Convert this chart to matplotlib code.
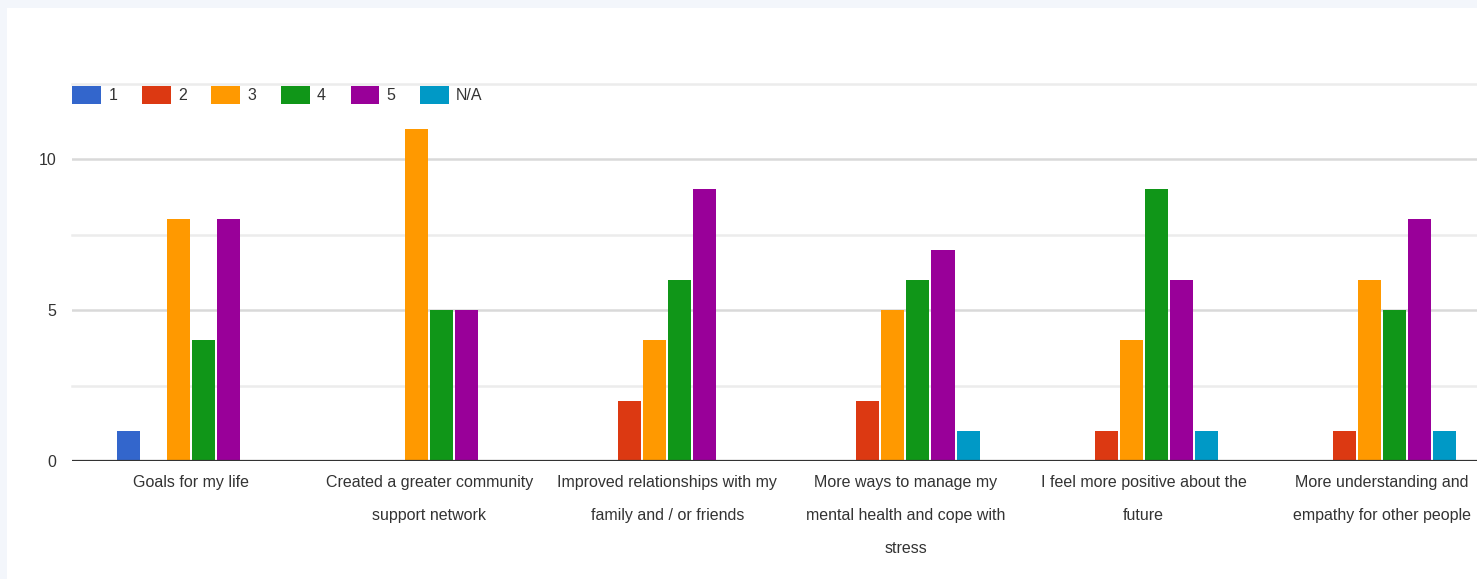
import matplotlib
matplotlib.use("Agg")
import matplotlib.pyplot as plt
import numpy as np
from matplotlib import font_manager
from matplotlib.patches import Patch, Rectangle

# survey statements and answer counts per rating
categories = [
    "Goals for my life",
    "Created a greater community\nsupport network",
    "Improved relationships with my\nfamily and / or friends",
    "More ways to manage my\nmental health and cope with\nstress",
    "I feel more positive about the\nfuture",
    "More understanding and\nempathy for other people",
]
ratings = ["1", "2", "3", "4", "5", "N/A"]
counts_1 = [1, 0, 0, 0, 0, 0]
counts_2 = [0, 0, 2, 2, 1, 1]
counts_3 = [8, 11, 4, 5, 4, 6]
counts_4 = [4, 5, 6, 6, 9, 5]
counts_5 = [8, 5, 9, 7, 6, 8]
counts_na = [0, 0, 0, 1, 1, 1]
series = [counts_1, counts_2, counts_3, counts_4, counts_5, counts_na]
colors = ["#3366cc", "#dc3912", "#ff9900", "#109618", "#990099", "#0099c6"]
y_ticks = [0, 5, 10]


def pick_font():
    for fam in ["Liberation Sans Narrow", "Liberation Sans"]:
        try:
            font_manager.findfont(font_manager.FontProperties(family=fam),
                                  fallback_to_default=False)
            return fam
        except Exception:
            continue
    return "DejaVu Sans"


family = pick_font()
narrow = "Narrow" in family
fs = 13.5 if narrow else 11.5
plt.rcParams["font.family"] = family
text_color = "#333333"

fig = plt.figure(figsize=(14.77, 5.79), dpi=100, facecolor="#f3f6fb")
# white card over the pale frame
fig.patches.append(Rectangle((7 / 1477, 0), 1, 1 - 8 / 579, transform=fig.transFigure,
                             facecolor="white", edgecolor="none", zorder=-10))

ax = fig.add_axes([72 / 1477, 118 / 579, 1 - 72 / 1477, 377.5 / 579])
ax.set_facecolor("none")

pitch = 25 / 238
width = 23 / 238
x = np.arange(len(categories))
for i, (vals, c) in enumerate(zip(series, colors)):
    ax.bar(x + (i - 2.5) * pitch, vals, width=width, color=c, zorder=3)

ax.set_xlim(-0.5, 5.4)
ax.set_ylim(0, 12.5)

for v in [2.5, 7.5, 12.5]:
    ax.axhline(v, color="#ececec", lw=1.8, zorder=1, clip_on=False)
for v in [5, 10]:
    ax.axhline(v, color="#d9d9d9", lw=1.8, zorder=1)
ax.axhline(0, color="#333333", lw=1.6, zorder=4)

for s in ax.spines.values():
    s.set_visible(False)

ax.set_yticks(y_ticks)
ax.set_yticklabels([str(t) for t in y_ticks], fontsize=fs, color=text_color)
ax.tick_params(axis="y", length=0, pad=11)
ax.set_xticks(x)
ax.set_xticklabels(categories, fontsize=fs, color=text_color, linespacing=2.5)
ax.tick_params(axis="x", length=0, pad=10)

handles = [Patch(facecolor=c, edgecolor="none") for c in colors]
fig.legend(handles, ratings, loc="center left", bbox_to_anchor=(58 / 1477, 1 - 95 / 579),
           ncol=6, frameon=False, fontsize=fs, handlelength=1.8, handleheight=1.4,
           handletextpad=0.45, columnspacing=1.55, labelcolor=text_color)

fig.savefig("out.png", dpi=100, facecolor=fig.get_facecolor())
